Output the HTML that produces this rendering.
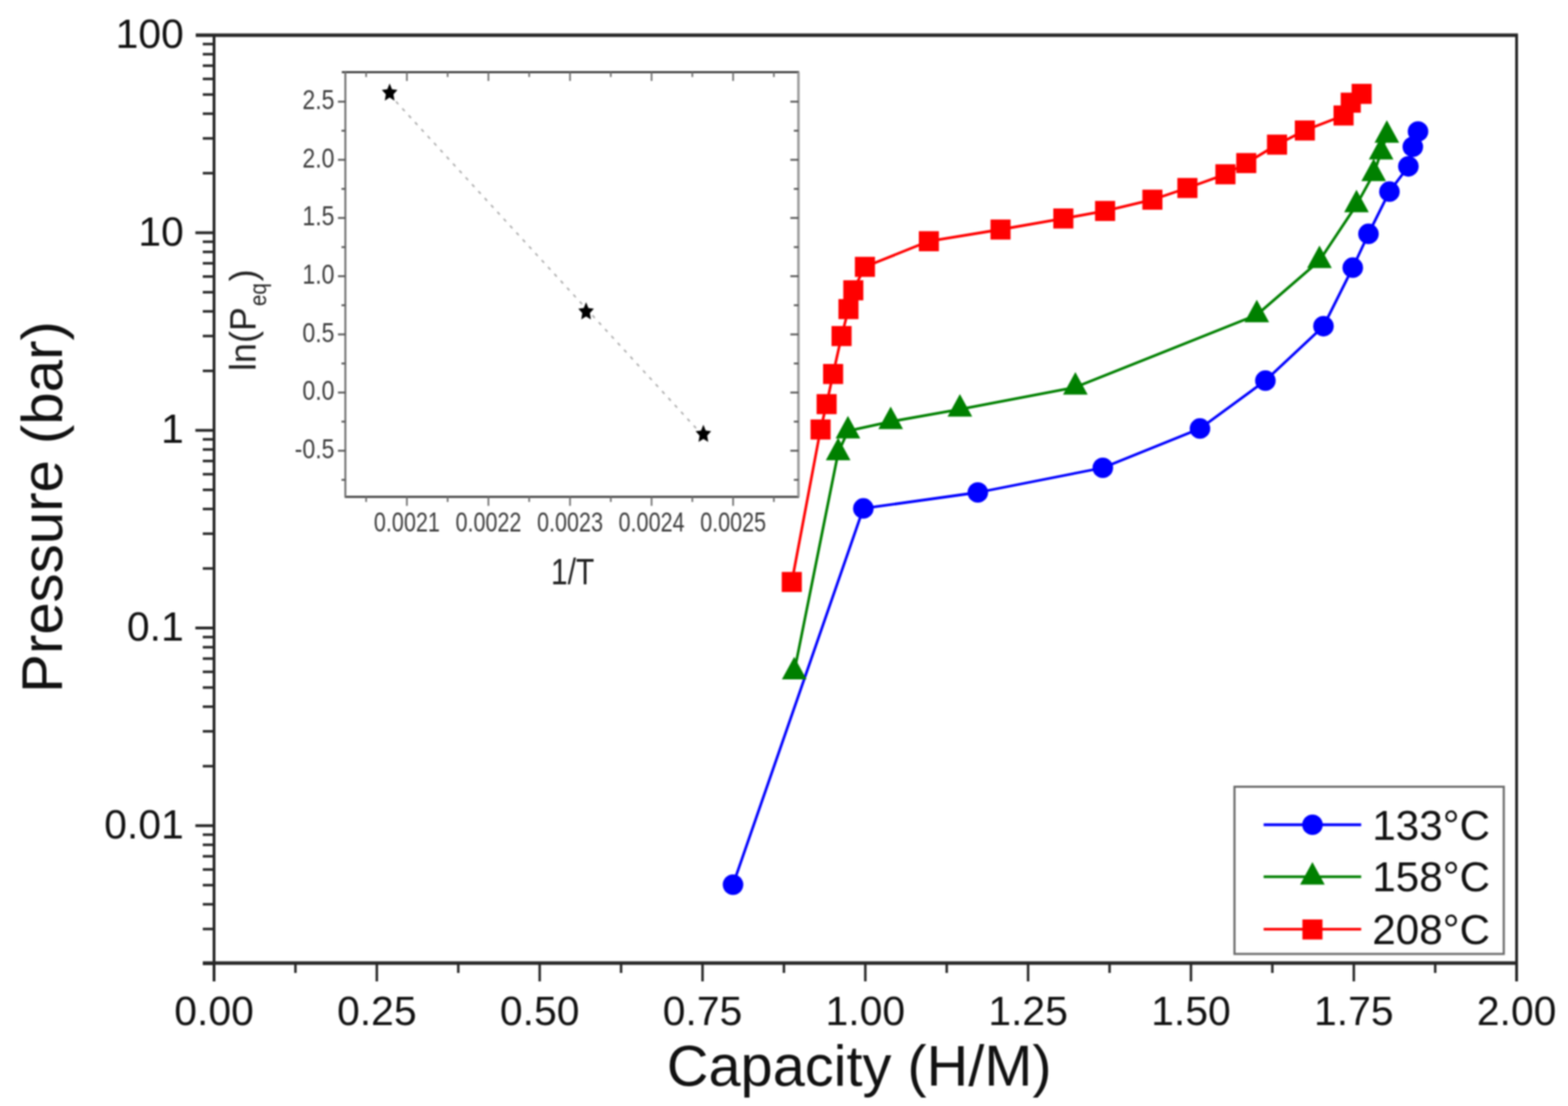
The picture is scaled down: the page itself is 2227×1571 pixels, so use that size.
<!DOCTYPE html>
<html><head><meta charset="utf-8"><title>Pressure vs Capacity</title>
<style>html,body{margin:0;padding:0;background:#fff;}body{width:2227px;height:1571px;overflow:hidden;}svg{display:block;}#w{filter:blur(1px);width:2227px;height:1571px;}</style>
</head><body><div id="w">
<svg width="2227" height="1571" viewBox="0 0 2227 1571">
<rect x="0" y="0" width="2227" height="1571" fill="#fff"/>
<polyline points="1041.1,1256.6 1226.2,722.2 1388.8,699.5 1566.3,664.5 1704.3,608.7 1797.2,540.7 1879.7,463.3 1921.3,380.2 1943.6,332.2 1973.4,272.2 2000.3,236.3 2006.6,208.5 2014.0,186.8" fill="none" stroke="#0000ff" stroke-width="3.8" stroke-linejoin="round" stroke-linecap="round"/>
<circle cx="1041.1" cy="1256.6" r="14.6" fill="#0000ff"/>
<circle cx="1226.2" cy="722.2" r="14.6" fill="#0000ff"/>
<circle cx="1388.8" cy="699.5" r="14.6" fill="#0000ff"/>
<circle cx="1566.3" cy="664.5" r="14.6" fill="#0000ff"/>
<circle cx="1704.3" cy="608.7" r="14.6" fill="#0000ff"/>
<circle cx="1797.2" cy="540.7" r="14.6" fill="#0000ff"/>
<circle cx="1879.7" cy="463.3" r="14.6" fill="#0000ff"/>
<circle cx="1921.3" cy="380.2" r="14.6" fill="#0000ff"/>
<circle cx="1943.6" cy="332.2" r="14.6" fill="#0000ff"/>
<circle cx="1973.4" cy="272.2" r="14.6" fill="#0000ff"/>
<circle cx="2000.3" cy="236.3" r="14.6" fill="#0000ff"/>
<circle cx="2006.6" cy="208.5" r="14.6" fill="#0000ff"/>
<circle cx="2014.0" cy="186.8" r="14.6" fill="#0000ff"/>
<polyline points="1128.0,954.5 1190.4,643.3 1204.3,612.2 1265.0,598.9 1363.3,581.3 1527.3,550.1 1785.0,447.2 1874.0,370.2 1926.6,291.1 1951.0,246.8 1961.6,216.0 1969.7,192.3" fill="none" stroke="#008000" stroke-width="3.8" stroke-linejoin="round" stroke-linecap="round"/>
<polygon points="1110.5,965.0 1145.5,965.0 1128.0,933.0" fill="#008000"/>
<polygon points="1172.9,653.8 1207.9,653.8 1190.4,621.8" fill="#008000"/>
<polygon points="1186.8,622.7 1221.8,622.7 1204.3,590.7" fill="#008000"/>
<polygon points="1247.5,609.4 1282.5,609.4 1265.0,577.4" fill="#008000"/>
<polygon points="1345.8,591.8 1380.8,591.8 1363.3,559.8" fill="#008000"/>
<polygon points="1509.8,560.6 1544.8,560.6 1527.3,528.6" fill="#008000"/>
<polygon points="1767.5,457.7 1802.5,457.7 1785.0,425.7" fill="#008000"/>
<polygon points="1856.5,380.7 1891.5,380.7 1874.0,348.7" fill="#008000"/>
<polygon points="1909.1,301.6 1944.1,301.6 1926.6,269.6" fill="#008000"/>
<polygon points="1933.5,257.3 1968.5,257.3 1951.0,225.3" fill="#008000"/>
<polygon points="1944.1,226.5 1979.1,226.5 1961.6,194.5" fill="#008000"/>
<polygon points="1952.2,202.8 1987.2,202.8 1969.7,170.8" fill="#008000"/>
<polyline points="1124.6,826.6 1165.4,610.0 1174.0,574.0 1183.2,531.3 1195.3,477.4 1205.1,439.0 1211.9,412.3 1228.4,379.0 1319.3,342.6 1421.0,326.0 1510.3,310.4 1569.6,299.7 1636.7,283.7 1686.4,267.0 1740.5,247.6 1770.0,231.7 1813.7,205.5 1853.3,185.3 1908.3,164.0 1918.4,145.8 1933.9,133.3" fill="none" stroke="#ff0000" stroke-width="3.8" stroke-linejoin="round" stroke-linecap="round"/>
<rect x="1110.3" y="812.4" width="28.5" height="28.5" fill="#ff0000"/>
<rect x="1151.2" y="595.8" width="28.5" height="28.5" fill="#ff0000"/>
<rect x="1159.8" y="559.8" width="28.5" height="28.5" fill="#ff0000"/>
<rect x="1169.0" y="517.0" width="28.5" height="28.5" fill="#ff0000"/>
<rect x="1181.0" y="463.1" width="28.5" height="28.5" fill="#ff0000"/>
<rect x="1190.8" y="424.8" width="28.5" height="28.5" fill="#ff0000"/>
<rect x="1197.7" y="398.1" width="28.5" height="28.5" fill="#ff0000"/>
<rect x="1214.2" y="364.8" width="28.5" height="28.5" fill="#ff0000"/>
<rect x="1305.0" y="328.4" width="28.5" height="28.5" fill="#ff0000"/>
<rect x="1406.8" y="311.8" width="28.5" height="28.5" fill="#ff0000"/>
<rect x="1496.0" y="296.1" width="28.5" height="28.5" fill="#ff0000"/>
<rect x="1555.3" y="285.4" width="28.5" height="28.5" fill="#ff0000"/>
<rect x="1622.5" y="269.4" width="28.5" height="28.5" fill="#ff0000"/>
<rect x="1672.2" y="252.8" width="28.5" height="28.5" fill="#ff0000"/>
<rect x="1726.2" y="233.3" width="28.5" height="28.5" fill="#ff0000"/>
<rect x="1755.8" y="217.4" width="28.5" height="28.5" fill="#ff0000"/>
<rect x="1799.5" y="191.2" width="28.5" height="28.5" fill="#ff0000"/>
<rect x="1839.0" y="171.1" width="28.5" height="28.5" fill="#ff0000"/>
<rect x="1894.0" y="149.8" width="28.5" height="28.5" fill="#ff0000"/>
<rect x="1904.2" y="131.6" width="28.5" height="28.5" fill="#ff0000"/>
<rect x="1919.7" y="119.1" width="28.5" height="28.5" fill="#ff0000"/>
<g stroke="#262626" fill="none">
<line x1="278.0" y1="50.0" x2="2156.0" y2="50.0" stroke-width="5"/>
<line x1="288.0" y1="1368.0" x2="2156.0" y2="1368.0" stroke-width="5"/>
<line x1="304.0" y1="48.0" x2="304.0" y2="1394.0" stroke-width="4"/>
<line x1="2154.0" y1="48.0" x2="2154.0" y2="1394.0" stroke-width="4"/>
<line x1="288.0" y1="1369.0" x2="304.0" y2="1369.0" stroke-width="3.6"/>
<line x1="288.0" y1="1319.6" x2="304.0" y2="1319.6" stroke-width="3.6"/>
<line x1="288.0" y1="1284.5" x2="304.0" y2="1284.5" stroke-width="3.6"/>
<line x1="288.0" y1="1257.3" x2="304.0" y2="1257.3" stroke-width="3.6"/>
<line x1="288.0" y1="1235.1" x2="304.0" y2="1235.1" stroke-width="3.6"/>
<line x1="288.0" y1="1216.3" x2="304.0" y2="1216.3" stroke-width="3.6"/>
<line x1="288.0" y1="1200.0" x2="304.0" y2="1200.0" stroke-width="3.6"/>
<line x1="288.0" y1="1185.6" x2="304.0" y2="1185.6" stroke-width="3.6"/>
<line x1="277.5" y1="1172.8" x2="304.0" y2="1172.8" stroke-width="4"/>
<line x1="288.0" y1="1088.3" x2="304.0" y2="1088.3" stroke-width="3.6"/>
<line x1="288.0" y1="1038.8" x2="304.0" y2="1038.8" stroke-width="3.6"/>
<line x1="288.0" y1="1003.8" x2="304.0" y2="1003.8" stroke-width="3.6"/>
<line x1="288.0" y1="976.6" x2="304.0" y2="976.6" stroke-width="3.6"/>
<line x1="288.0" y1="954.3" x2="304.0" y2="954.3" stroke-width="3.6"/>
<line x1="288.0" y1="935.5" x2="304.0" y2="935.5" stroke-width="3.6"/>
<line x1="288.0" y1="919.3" x2="304.0" y2="919.3" stroke-width="3.6"/>
<line x1="288.0" y1="904.9" x2="304.0" y2="904.9" stroke-width="3.6"/>
<line x1="277.5" y1="892.0" x2="304.0" y2="892.0" stroke-width="4"/>
<line x1="288.0" y1="807.5" x2="304.0" y2="807.5" stroke-width="3.6"/>
<line x1="288.0" y1="758.1" x2="304.0" y2="758.1" stroke-width="3.6"/>
<line x1="288.0" y1="723.0" x2="304.0" y2="723.0" stroke-width="3.6"/>
<line x1="288.0" y1="695.8" x2="304.0" y2="695.8" stroke-width="3.6"/>
<line x1="288.0" y1="673.6" x2="304.0" y2="673.6" stroke-width="3.6"/>
<line x1="288.0" y1="654.8" x2="304.0" y2="654.8" stroke-width="3.6"/>
<line x1="288.0" y1="638.5" x2="304.0" y2="638.5" stroke-width="3.6"/>
<line x1="288.0" y1="624.1" x2="304.0" y2="624.1" stroke-width="3.6"/>
<line x1="277.5" y1="611.3" x2="304.0" y2="611.3" stroke-width="4"/>
<line x1="288.0" y1="526.8" x2="304.0" y2="526.8" stroke-width="3.6"/>
<line x1="288.0" y1="477.3" x2="304.0" y2="477.3" stroke-width="3.6"/>
<line x1="288.0" y1="442.3" x2="304.0" y2="442.3" stroke-width="3.6"/>
<line x1="288.0" y1="415.1" x2="304.0" y2="415.1" stroke-width="3.6"/>
<line x1="288.0" y1="392.8" x2="304.0" y2="392.8" stroke-width="3.6"/>
<line x1="288.0" y1="374.0" x2="304.0" y2="374.0" stroke-width="3.6"/>
<line x1="288.0" y1="357.8" x2="304.0" y2="357.8" stroke-width="3.6"/>
<line x1="288.0" y1="343.4" x2="304.0" y2="343.4" stroke-width="3.6"/>
<line x1="277.5" y1="330.6" x2="304.0" y2="330.6" stroke-width="4"/>
<line x1="288.0" y1="246.0" x2="304.0" y2="246.0" stroke-width="3.6"/>
<line x1="288.0" y1="196.6" x2="304.0" y2="196.6" stroke-width="3.6"/>
<line x1="288.0" y1="161.5" x2="304.0" y2="161.5" stroke-width="3.6"/>
<line x1="288.0" y1="134.3" x2="304.0" y2="134.3" stroke-width="3.6"/>
<line x1="288.0" y1="112.1" x2="304.0" y2="112.1" stroke-width="3.6"/>
<line x1="288.0" y1="93.3" x2="304.0" y2="93.3" stroke-width="3.6"/>
<line x1="288.0" y1="77.0" x2="304.0" y2="77.0" stroke-width="3.6"/>
<line x1="288.0" y1="62.6" x2="304.0" y2="62.6" stroke-width="3.6"/>
<line x1="419.6" y1="1368.0" x2="419.6" y2="1382.0" stroke-width="3.5"/>
<line x1="535.2" y1="1368.0" x2="535.2" y2="1394.0" stroke-width="3.5"/>
<line x1="650.9" y1="1368.0" x2="650.9" y2="1382.0" stroke-width="3.5"/>
<line x1="766.5" y1="1368.0" x2="766.5" y2="1394.0" stroke-width="3.5"/>
<line x1="882.1" y1="1368.0" x2="882.1" y2="1382.0" stroke-width="3.5"/>
<line x1="997.8" y1="1368.0" x2="997.8" y2="1394.0" stroke-width="3.5"/>
<line x1="1113.4" y1="1368.0" x2="1113.4" y2="1382.0" stroke-width="3.5"/>
<line x1="1229.0" y1="1368.0" x2="1229.0" y2="1394.0" stroke-width="3.5"/>
<line x1="1344.6" y1="1368.0" x2="1344.6" y2="1382.0" stroke-width="3.5"/>
<line x1="1460.2" y1="1368.0" x2="1460.2" y2="1394.0" stroke-width="3.5"/>
<line x1="1575.9" y1="1368.0" x2="1575.9" y2="1382.0" stroke-width="3.5"/>
<line x1="1691.5" y1="1368.0" x2="1691.5" y2="1394.0" stroke-width="3.5"/>
<line x1="1807.1" y1="1368.0" x2="1807.1" y2="1382.0" stroke-width="3.5"/>
<line x1="1922.8" y1="1368.0" x2="1922.8" y2="1394.0" stroke-width="3.5"/>
<line x1="2038.4" y1="1368.0" x2="2038.4" y2="1382.0" stroke-width="3.5"/>
</g>
<g font-family="'Liberation Sans', Arial, Helvetica, sans-serif" font-size="58" fill="#111">
<text x="261" y="67.8" text-anchor="end">100</text>
<text x="261" y="348.6" text-anchor="end">10</text>
<text x="261" y="629.3" text-anchor="end">1</text>
<text x="261" y="910.0" text-anchor="end">0.1</text>
<text x="261" y="1190.8" text-anchor="end">0.01</text>
<text x="304.0" y="1455.5" text-anchor="middle">0.00</text>
<text x="535.2" y="1455.5" text-anchor="middle">0.25</text>
<text x="766.5" y="1455.5" text-anchor="middle">0.50</text>
<text x="997.8" y="1455.5" text-anchor="middle">0.75</text>
<text x="1229.0" y="1455.5" text-anchor="middle">1.00</text>
<text x="1460.2" y="1455.5" text-anchor="middle">1.25</text>
<text x="1691.5" y="1455.5" text-anchor="middle">1.50</text>
<text x="1922.8" y="1455.5" text-anchor="middle">1.75</text>
<text x="2154.0" y="1455.5" text-anchor="middle">2.00</text>
</g>
<text x="947" y="1541.8" font-family="'Liberation Sans', Arial, Helvetica, sans-serif" font-size="81.5" fill="#111" textLength="546.6" lengthAdjust="spacingAndGlyphs">Capacity (H/M)</text>
<text transform="translate(88.3,984.2) rotate(-90)" x="0" y="0" font-family="'Liberation Sans', Arial, Helvetica, sans-serif" font-size="81" fill="#111" textLength="528" lengthAdjust="spacingAndGlyphs">Pressure (bar)</text>
<rect x="1753.3" y="1117.5" width="382.5" height="237.5" fill="#fff" stroke="#6a6a6a" stroke-width="3"/>
<line x1="1794.7" y1="1171.5" x2="1933.3" y2="1171.5" stroke="#0000ff" stroke-width="3.8"/>
<circle cx="1864.1" cy="1171.5" r="14.6" fill="#0000ff"/>
<line x1="1794.7" y1="1245.3" x2="1933.3" y2="1245.3" stroke="#008000" stroke-width="3.8"/>
<polygon points="1846.5,1256.5 1881.5,1256.5 1864.0,1224.5" fill="#008000"/>
<line x1="1794.7" y1="1319.9" x2="1933.3" y2="1319.9" stroke="#ff0000" stroke-width="3.8"/>
<rect x="1849.8" y="1306.0" width="28.5" height="28.5" fill="#ff0000"/>
<g font-family="'Liberation Sans', Arial, Helvetica, sans-serif" font-size="60" fill="#111">
<text x="1949" y="1193.4">133°C</text>
<text x="1949" y="1266.2">158°C</text>
<text x="1949" y="1340.5">208°C</text>
</g>
<rect x="490.5" y="102.4" width="643.5" height="603.3000000000001" fill="#fff"/>
<line x1="553.4" y1="134.5" x2="999" y2="619.5" stroke="#b0b0b0" stroke-width="2.4" stroke-dasharray="5 8.3"/>
<polygon points="553.4,118.4 556.7,126.7 564.5,127.8 558.8,134.0 560.3,143.0 553.4,138.6 546.5,143.0 548.0,134.0 542.3,127.8 550.1,126.7" fill="#000"/>
<polygon points="832.4,429.2 835.7,437.5 843.5,438.6 837.8,444.8 839.3,453.8 832.4,449.4 825.5,453.8 827.0,444.8 821.3,438.6 829.1,437.5" fill="#000"/>
<polygon points="999.0,603.2 1002.3,611.5 1010.1,612.6 1004.4,618.8 1005.9,627.8 999.0,623.4 992.1,627.8 993.6,618.8 987.9,612.6 995.7,611.5" fill="#000"/>
<line x1="485.5" y1="102.4" x2="1135.0" y2="102.4" stroke="#404040" stroke-width="3"/>
<line x1="489.5" y1="705.7" x2="1135.0" y2="705.7" stroke="#404040" stroke-width="3"/>
<line x1="490.5" y1="102.4" x2="490.5" y2="705.7" stroke="#7a7a7a" stroke-width="3"/>
<line x1="1134.0" y1="102.4" x2="1134.0" y2="705.7" stroke="#9a9a9a" stroke-width="3.5"/>
<g stroke="#555" stroke-width="2.6">
<line x1="485.0" y1="681.6" x2="490.5" y2="681.6"/>
<line x1="1127.5" y1="681.6" x2="1134.0" y2="681.6"/>
<line x1="480.0" y1="640.2" x2="490.5" y2="640.2"/>
<line x1="1122.5" y1="640.2" x2="1134.0" y2="640.2"/>
<line x1="485.0" y1="598.9" x2="490.5" y2="598.9"/>
<line x1="1127.5" y1="598.9" x2="1134.0" y2="598.9"/>
<line x1="480.0" y1="557.6" x2="490.5" y2="557.6"/>
<line x1="1122.5" y1="557.6" x2="1134.0" y2="557.6"/>
<line x1="485.0" y1="516.3" x2="490.5" y2="516.3"/>
<line x1="1127.5" y1="516.3" x2="1134.0" y2="516.3"/>
<line x1="480.0" y1="475.0" x2="490.5" y2="475.0"/>
<line x1="1122.5" y1="475.0" x2="1134.0" y2="475.0"/>
<line x1="485.0" y1="433.6" x2="490.5" y2="433.6"/>
<line x1="1127.5" y1="433.6" x2="1134.0" y2="433.6"/>
<line x1="480.0" y1="392.3" x2="490.5" y2="392.3"/>
<line x1="1122.5" y1="392.3" x2="1134.0" y2="392.3"/>
<line x1="485.0" y1="351.0" x2="490.5" y2="351.0"/>
<line x1="1127.5" y1="351.0" x2="1134.0" y2="351.0"/>
<line x1="480.0" y1="309.6" x2="490.5" y2="309.6"/>
<line x1="1122.5" y1="309.6" x2="1134.0" y2="309.6"/>
<line x1="485.0" y1="268.3" x2="490.5" y2="268.3"/>
<line x1="1127.5" y1="268.3" x2="1134.0" y2="268.3"/>
<line x1="480.0" y1="227.0" x2="490.5" y2="227.0"/>
<line x1="1122.5" y1="227.0" x2="1134.0" y2="227.0"/>
<line x1="485.0" y1="185.7" x2="490.5" y2="185.7"/>
<line x1="1127.5" y1="185.7" x2="1134.0" y2="185.7"/>
<line x1="480.0" y1="144.4" x2="490.5" y2="144.4"/>
<line x1="1122.5" y1="144.4" x2="1134.0" y2="144.4"/>
</g>
<g stroke="#707070" stroke-width="2.4">
<line x1="520.0" y1="705.7" x2="520.0" y2="713.0"/>
<line x1="520.0" y1="102.4" x2="520.0" y2="109.4"/>
<line x1="577.9" y1="705.7" x2="577.9" y2="718.5"/>
<line x1="577.9" y1="102.4" x2="577.9" y2="115.0"/>
<line x1="635.8" y1="705.7" x2="635.8" y2="713.0"/>
<line x1="635.8" y1="102.4" x2="635.8" y2="109.4"/>
<line x1="693.7" y1="705.7" x2="693.7" y2="718.5"/>
<line x1="693.7" y1="102.4" x2="693.7" y2="115.0"/>
<line x1="751.6" y1="705.7" x2="751.6" y2="713.0"/>
<line x1="751.6" y1="102.4" x2="751.6" y2="109.4"/>
<line x1="809.6" y1="705.7" x2="809.6" y2="718.5"/>
<line x1="809.6" y1="102.4" x2="809.6" y2="115.0"/>
<line x1="867.5" y1="705.7" x2="867.5" y2="713.0"/>
<line x1="867.5" y1="102.4" x2="867.5" y2="109.4"/>
<line x1="925.4" y1="705.7" x2="925.4" y2="718.5"/>
<line x1="925.4" y1="102.4" x2="925.4" y2="115.0"/>
<line x1="983.3" y1="705.7" x2="983.3" y2="713.0"/>
<line x1="983.3" y1="102.4" x2="983.3" y2="109.4"/>
<line x1="1041.2" y1="705.7" x2="1041.2" y2="718.5"/>
<line x1="1041.2" y1="102.4" x2="1041.2" y2="115.0"/>
<line x1="1099.1" y1="705.7" x2="1099.1" y2="713.0"/>
<line x1="1099.1" y1="102.4" x2="1099.1" y2="109.4"/>
</g>
<text transform="translate(475.0,154.9) scale(0.83,1)" x="0" y="0" font-family="'Liberation Sans', Arial, Helvetica, sans-serif" font-size="39.5" fill="#3c3c3c" text-anchor="end">2.5</text>
<text transform="translate(475.0,237.5) scale(0.83,1)" x="0" y="0" font-family="'Liberation Sans', Arial, Helvetica, sans-serif" font-size="39.5" fill="#3c3c3c" text-anchor="end">2.0</text>
<text transform="translate(475.0,320.1) scale(0.83,1)" x="0" y="0" font-family="'Liberation Sans', Arial, Helvetica, sans-serif" font-size="39.5" fill="#3c3c3c" text-anchor="end">1.5</text>
<text transform="translate(475.0,402.8) scale(0.83,1)" x="0" y="0" font-family="'Liberation Sans', Arial, Helvetica, sans-serif" font-size="39.5" fill="#3c3c3c" text-anchor="end">1.0</text>
<text transform="translate(475.0,485.5) scale(0.83,1)" x="0" y="0" font-family="'Liberation Sans', Arial, Helvetica, sans-serif" font-size="39.5" fill="#3c3c3c" text-anchor="end">0.5</text>
<text transform="translate(475.0,568.1) scale(0.83,1)" x="0" y="0" font-family="'Liberation Sans', Arial, Helvetica, sans-serif" font-size="39.5" fill="#3c3c3c" text-anchor="end">0.0</text>
<text transform="translate(475.0,650.8) scale(0.83,1)" x="0" y="0" font-family="'Liberation Sans', Arial, Helvetica, sans-serif" font-size="39.5" fill="#3c3c3c" text-anchor="end">-0.5</text>
<text transform="translate(577.9,755.0) scale(0.775,1)" x="0" y="0" font-family="'Liberation Sans', Arial, Helvetica, sans-serif" font-size="39.5" fill="#3c3c3c" text-anchor="middle">0.0021</text>
<text transform="translate(693.7,755.0) scale(0.775,1)" x="0" y="0" font-family="'Liberation Sans', Arial, Helvetica, sans-serif" font-size="39.5" fill="#3c3c3c" text-anchor="middle">0.0022</text>
<text transform="translate(809.6,755.0) scale(0.775,1)" x="0" y="0" font-family="'Liberation Sans', Arial, Helvetica, sans-serif" font-size="39.5" fill="#3c3c3c" text-anchor="middle">0.0023</text>
<text transform="translate(925.4,755.0) scale(0.775,1)" x="0" y="0" font-family="'Liberation Sans', Arial, Helvetica, sans-serif" font-size="39.5" fill="#3c3c3c" text-anchor="middle">0.0024</text>
<text transform="translate(1041.2,755.0) scale(0.775,1)" x="0" y="0" font-family="'Liberation Sans', Arial, Helvetica, sans-serif" font-size="39.5" fill="#3c3c3c" text-anchor="middle">0.0025</text>
<text transform="translate(782.5,829.7) scale(0.82,1)" x="0" y="0" font-family="'Liberation Sans', Arial, Helvetica, sans-serif" font-size="52" fill="#222" text-anchor="start">1/T</text>
<g transform="translate(363.4,527) rotate(-90)" font-family="'Liberation Sans', Arial, Helvetica, sans-serif" fill="#222">
<text x="0" y="0" font-size="51">ln(P</text>
<text x="92.2" y="14.5" font-size="34" textLength="32.6" lengthAdjust="spacingAndGlyphs">eq</text>
<text x="127.5" y="0" font-size="51">)</text>
</g>
</svg>
</div></body></html>
